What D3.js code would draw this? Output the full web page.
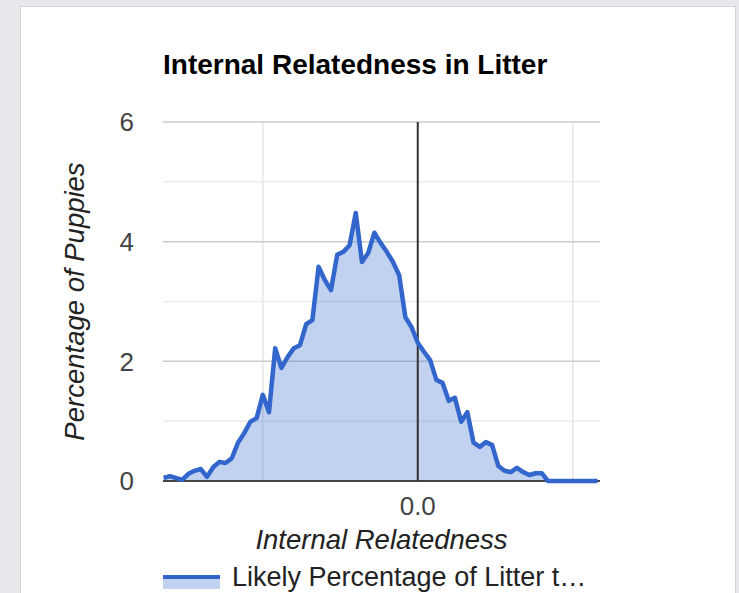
<!DOCTYPE html>
<html>
<head>
<meta charset="utf-8">
<script src="https://cdn.jsdelivr.net/npm/d3@7"></script>
<style>
  body { margin: 0; background: #e8e8ec; }
  svg { display: block; }
</style>
</head>
<body>
<div id="chart"></div>
<script>
// Internal relatedness bins (step 0.01) and percentage of puppies in each
var relatedness = d3.range(-41, 30).map(k => k / 100);
var percentages = [
  0.05, 0.08, 0.05, 0.02, 0.12, 0.17, 0.20, 0.07, 0.23, 0.32,
  0.30, 0.38, 0.64, 0.80, 0.99, 1.05, 1.44, 1.15, 2.22, 1.89,
  2.07, 2.22, 2.27, 2.62, 2.69, 3.58, 3.36, 3.19, 3.78, 3.83,
  3.94, 4.48, 3.66, 3.81, 4.15, 3.98, 3.83, 3.66, 3.44, 2.74,
  2.57, 2.31, 2.16, 2.02, 1.69, 1.64, 1.34, 1.39, 0.99, 1.15,
  0.64, 0.57, 0.65, 0.60, 0.25, 0.17, 0.15, 0.22, 0.15, 0.10,
  0.13, 0.13, 0.00, 0.00, 0.00, 0.00, 0.00, 0.00, 0.00, 0.00,
  0.00
];
var yTicks = [0, 2, 4, 6];
var yMinorTicks = [1, 3, 5];
var xGrid = [-0.25, 0, 0.25];
var xLabels = ["0.0"];

var data = relatedness.map((r, i) => ({ x: r, y: percentages[i] }));

var svgWidth = 739;
var svgHeight = 593;

// plot box inside the white panel
var margin = { top: 122, right: 139, bottom: 112, left: 163 };
var width = svgWidth - margin.left - margin.right;
var height = svgHeight - margin.top - margin.bottom;

var svg = d3.select("#chart")
  .append("svg")
  .attr("width", svgWidth)
  .attr("height", svgHeight);

// white panel with faint border
svg.append("rect")
  .attr("x", 20.5).attr("y", 6.5)
  .attr("width", 715).attr("height", 600)
  .attr("fill", "#fff")
  .attr("stroke", "#d6d6da");

var chartGroup = svg.append("g")
  .attr("transform", `translate(${margin.left}, ${margin.top})`);

var xScale = d3.scaleLinear()
  .domain([-0.411, 0.294])
  .range([0, width]);

var yScale = d3.scaleLinear()
  .domain([0, 6])
  .range([height, 0]);

var font = "Arial, 'Liberation Sans', sans-serif";

// gridlines
chartGroup.selectAll(".minor")
  .data(yMinorTicks)
  .enter()
  .append("line")
  .attr("x1", 0).attr("x2", width)
  .attr("y1", d => yScale(d)).attr("y2", d => yScale(d))
  .attr("stroke", "#ececec")
  .attr("stroke-width", 1.5);

chartGroup.selectAll(".vgrid")
  .data(xGrid.filter(d => d !== 0))
  .enter()
  .append("line")
  .attr("x1", d => xScale(d)).attr("x2", d => xScale(d))
  .attr("y1", 0).attr("y2", height)
  .attr("stroke", "#e6e6e6")
  .attr("stroke-width", 1.5);

chartGroup.selectAll(".major")
  .data(yTicks.filter(d => d !== 0))
  .enter()
  .append("line")
  .attr("x1", 0).attr("x2", width)
  .attr("y1", d => yScale(d)).attr("y2", d => yScale(d))
  .attr("stroke", "#cccccc")
  .attr("stroke-width", 1.5);

// area + line
var area = d3.area()
  .x(d => xScale(d.x))
  .y0(yScale(0))
  .y1(d => yScale(d.y));

var line = d3.line()
  .x(d => xScale(d.x))
  .y(d => yScale(d.y));

chartGroup.append("path")
  .datum(data)
  .attr("d", area)
  .attr("fill", "#3366cc")
  .attr("fill-opacity", 0.3);

// baselines
chartGroup.append("line")
  .attr("x1", 0).attr("x2", width)
  .attr("y1", yScale(0)).attr("y2", yScale(0))
  .attr("stroke", "#444")
  .attr("stroke-width", 2);

chartGroup.append("line")
  .attr("x1", xScale(0)).attr("x2", xScale(0))
  .attr("y1", 0).attr("y2", height)
  .attr("stroke", "#333")
  .attr("stroke-width", 2);

chartGroup.append("path")
  .datum(data)
  .attr("d", line)
  .attr("fill", "none")
  .attr("stroke", "#3366cc")
  .attr("stroke-width", 4.5)
  .attr("stroke-linejoin", "round");

// y tick labels
chartGroup.selectAll(".ylab")
  .data(yTicks)
  .enter()
  .append("text")
  .attr("x", -29)
  .attr("y", d => yScale(d))
  .attr("dy", "0.36em")
  .attr("text-anchor", "end")
  .attr("font-family", font)
  .attr("font-size", 26)
  .attr("fill", "#444")
  .text(d => d);

// x tick label
chartGroup.selectAll(".xlab")
  .data(xLabels)
  .enter()
  .append("text")
  .attr("x", d => xScale(+d))
  .attr("y", height + 34)
  .attr("text-anchor", "middle")
  .attr("font-family", font)
  .attr("font-size", 26)
  .attr("fill", "#444")
  .text(d => d);

// title
svg.append("text")
  .attr("x", margin.left)
  .attr("y", 74)
  .attr("font-family", font)
  .attr("font-size", 28)
  .attr("font-weight", "bold")
  .attr("fill", "#000")
  .text("Internal Relatedness in Litter");

// axis titles
chartGroup.append("text")
  .attr("x", width / 2)
  .attr("y", height + 68)
  .attr("text-anchor", "middle")
  .attr("font-family", font)
  .attr("font-size", 27.5)
  .attr("font-style", "italic")
  .attr("fill", "#222")
  .text("Internal Relatedness");

chartGroup.append("text")
  .attr("transform", `translate(${84 - margin.left}, ${height / 2}) rotate(-90)`)
  .attr("text-anchor", "middle")
  .attr("font-family", font)
  .attr("font-size", 27.5)
  .attr("font-style", "italic")
  .attr("fill", "#222")
  .text("Percentage of Puppies");

// legend
var legend = svg.append("g")
  .attr("transform", "translate(163, 575)");

legend.append("rect")
  .attr("x", 0).attr("y", 2)
  .attr("width", 57).attr("height", 12)
  .attr("fill", "#3366cc")
  .attr("fill-opacity", 0.3);

legend.append("line")
  .attr("x1", 0).attr("x2", 57)
  .attr("y1", 2).attr("y2", 2)
  .attr("stroke", "#3366cc")
  .attr("stroke-width", 4);

legend.append("text")
  .attr("x", 69)
  .attr("y", 11)
  .attr("font-family", font)
  .attr("font-size", 27)
  .attr("fill", "#222")
  .text("Likely Percentage of Litter t\u2026");
</script>
</body>
</html>
